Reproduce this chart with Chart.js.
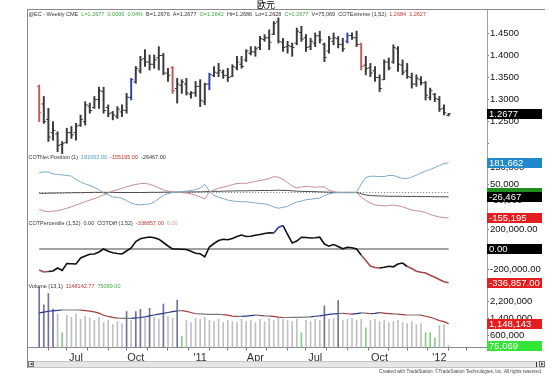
<!DOCTYPE html>
<html>
<head>
<meta charset="utf-8">
<script src="https://cdn.jsdelivr.net/npm/chart.js@4/dist/chart.umd.min.js"></script>
<style>
  html, body { margin: 0; padding: 0; background: #fff; }
  #wrap { width: 560px; height: 387px; }
</style>
</head>
<body>
<div id="wrap"><canvas id="c" width="560" height="387"></canvas></div>
<script>
// weekly euro futures bars, one per week
const priceHigh = [1.333,1.307,1.280,1.250,1.227,1.205,1.235,1.239,1.246,1.265,
  1.295,1.292,1.307,1.328,1.328,1.288,1.273,1.284,1.288,1.314,
  1.348,1.375,1.398,1.413,1.401,1.401,1.420,1.405,1.371,1.375,
  1.348,1.345,1.348,1.318,1.341,1.345,1.337,1.360,1.375,1.382,
  1.367,1.371,1.379,1.398,1.398,1.413,1.420,1.420,1.443,1.447,
  1.458,1.477,1.485,1.439,1.432,1.428,1.462,1.466,1.447,1.439,
  1.451,1.455,1.428,1.443,1.451,1.443,1.439,1.451,1.451,1.455,
  1.428,1.398,1.382,1.375,1.356,1.390,1.394,1.424,1.420,1.390,
  1.382,1.360,1.356,1.352,1.341,1.326,1.314,1.307,1.288,1.2686];
const priceLow = [1.250,1.246,1.205,1.208,1.182,1.174,1.201,1.212,1.208,1.239,
  1.242,1.269,1.280,1.280,1.269,1.261,1.254,1.257,1.261,1.269,
  1.299,1.337,1.360,1.375,1.367,1.371,1.367,1.356,1.341,1.314,
  1.292,1.314,1.310,1.303,1.307,1.284,1.288,1.322,1.352,1.352,
  1.348,1.341,1.352,1.367,1.371,1.386,1.401,1.398,1.413,1.432,
  1.413,1.447,1.428,1.409,1.405,1.398,1.424,1.432,1.409,1.413,
  1.420,1.428,1.386,1.405,1.424,1.417,1.409,1.428,1.436,1.420,
  1.367,1.356,1.352,1.341,1.318,1.345,1.367,1.382,1.364,1.356,
  1.348,1.326,1.330,1.333,1.299,1.299,1.295,1.273,1.265,1.2628];
const priceOpen = [1.330,1.290,1.255,1.225,1.222,1.198,1.203,1.225,1.225,1.242,
  1.250,1.285,1.282,1.300,1.318,1.282,1.270,1.262,1.272,1.275,
  1.305,1.340,1.365,1.393,1.385,1.380,1.395,1.400,1.360,1.372,
  1.325,1.332,1.335,1.312,1.315,1.330,1.295,1.335,1.355,1.360,
  1.362,1.355,1.352,1.372,1.380,1.390,1.405,1.408,1.418,1.436,
  1.440,1.448,1.476,1.430,1.420,1.420,1.428,1.452,1.440,1.420,
  1.428,1.445,1.425,1.410,1.432,1.438,1.425,1.432,1.445,1.440,
  1.425,1.378,1.372,1.365,1.350,1.345,1.385,1.385,1.415,1.378,
  1.365,1.350,1.335,1.345,1.338,1.305,1.312,1.300,1.280,1.2642];
const priceClose = [1.270,1.250,1.215,1.230,1.196,1.200,1.225,1.220,1.240,1.255,
  1.288,1.275,1.300,1.320,1.275,1.268,1.265,1.278,1.276,1.305,
  1.345,1.370,1.390,1.385,1.380,1.390,1.400,1.360,1.355,1.320,
  1.335,1.340,1.315,1.315,1.330,1.298,1.335,1.357,1.362,1.366,
  1.354,1.350,1.375,1.385,1.375,1.410,1.408,1.415,1.438,1.440,
  1.430,1.472,1.432,1.418,1.422,1.418,1.455,1.437,1.418,1.432,
  1.444,1.435,1.395,1.438,1.440,1.425,1.415,1.445,1.440,1.425,
  1.375,1.370,1.360,1.350,1.325,1.385,1.372,1.418,1.380,1.362,
  1.352,1.335,1.348,1.338,1.310,1.320,1.302,1.278,1.270,1.2677];

// weeks where COTExtreme painted the bar
const cotSellWeeks = [0, 29, 70];
const cotBuyWeeks = [20, 37, 67];

// COT net positions, thousands of contracts
const netCommercial = [120.6,125,125,113,110,107,104,100,79,64,
  52,43,30,18,-3,-15,-27,-30,-35,-49,
  -64,-73,-75,-72,-70,-58,-37,-18,-6,0,
  2,4,9,12,18,27,49,9,-18,-29,
  -37,-46,-51,-55,-56,-56,-60,-64,-67,-70,
  -76,-88,-96,-90,-85,-70,-58,-52,-44,-41,
  -37,-34,-18,-9,-2,-1,-1,-1,-1,0,
  52,91,99,99,97,97,104,104,94,86,
  86,94,105,119,131,140,152,164,176,181.662];
const netNonCommercial = [-102,-113,-116,-113,-111,-104,-96,-87,-76,-67,
  -56,-46,-38,-26,-14,-3,9,16,26,35,
  43,49,54,56,50,40,29,16,9,4,
  2,-1,-3,-9,-16,-27,-40,3,15,26,
  32,40,47,55,56,56,62,68,73,78,
  85,97,93,79,59,40,27,34,38,35,
  32,34,34,15,6,0,-1,-1,-1,-1,
  -27,-49,-64,-76,-79,-82,-79,-76,-81,-87,
  -97,-107,-111,-116,-122,-134,-142,-149,-153,-155.195];
const netSmall = [-5,-5,-4,-4,-3,-3,-2,-2,-1,-1,
  0,0,1,1,1,1,1,0,0,0,
  0,0,0,0,1,1,1,2,2,2,
  2,3,3,3,4,4,5,6,7,7,
  8,9,9,10,10,10,11,11,12,12,
  12,13,14,13,12,10,8,7,6,6,
  5,4,3,2,1,1,1,1,1,1,
  -8,-15,-19,-20,-21,-22,-23,-23,-23,-23,
  -24,-24,-24,-25,-25,-25,-26,-26,-26,-26.467];

// COTDiff (1,52), thousands
const cotDiff = [-210,-230,-225,-220,-190,-215,-145,-148,-150,-90,
  -70,-52,-50,-30,0,-22,-38,-45,-50,-20,
  10,75,102,112,120,112,98,65,30,0,
  0,-2,-5,-22,-42,-48,-78,20,55,85,
  98,92,105,125,140,125,128,138,145,155,
  162,160,215,235,145,60,80,118,115,110,
  112,118,50,28,45,25,2,18,12,0,
  -60,-115,-170,-185,-190,-182,-172,-178,-150,-140,
  -175,-195,-222,-232,-240,-262,-282,-305,-328,-336.857];
// weeks where COTPercentile sat at 0 / 100
const pctLowWeeks = [1,2,71,72,73,74,81,82,83,84,85,86,87,88,89];
const pctHighWeeks = [52,53];

// volume and its 13 week average, millions
const volume = [2.90,2.05,2.60,1.85,1.60,0.70,1.55,1.45,1.60,1.35,
  1.50,1.40,1.30,1.45,1.20,1.30,1.10,1.25,1.15,1.72,
  1.30,1.72,1.83,1.40,1.88,1.45,1.35,2.09,1.50,1.40,
  2.28,0.55,1.30,1.20,1.40,1.35,1.45,1.30,1.25,1.35,
  1.20,1.30,1.25,1.20,1.35,1.25,1.30,1.20,1.35,1.25,
  1.40,1.30,1.45,1.35,1.30,1.25,1.35,0.70,1.30,1.25,
  1.35,1.30,2.00,1.35,1.40,2.25,1.30,1.35,1.40,1.30,
  1.35,0.94,1.30,1.35,1.25,1.30,1.20,1.25,1.30,1.20,
  1.15,1.25,1.10,1.15,0.70,0.72,0.46,1.05,1.10,0.075069];
const volAvg = [1.66,1.70,1.74,1.76,1.78,1.80,1.80,1.80,1.80,1.79,
  1.77,1.75,1.71,1.65,1.55,1.49,1.45,1.41,1.40,1.40,
  1.40,1.42,1.44,1.47,1.52,1.56,1.60,1.64,1.68,1.72,
  1.76,1.77,1.73,1.68,1.62,1.61,1.60,1.59,1.59,1.59,
  1.58,1.55,1.51,1.49,1.49,1.51,1.53,1.55,1.54,1.52,
  1.51,1.49,1.46,1.44,1.44,1.45,1.45,1.45,1.46,1.47,
  1.50,1.52,1.55,1.59,1.61,1.63,1.64,1.62,1.60,1.63,
  1.66,1.65,1.62,1.64,1.67,1.65,1.63,1.61,1.60,1.58,
  1.56,1.56,1.56,1.55,1.50,1.45,1.38,1.29,1.24,1.148143];

// x axis: first week of each month, and the quarter labels
const monthWeeks = [4,8,13,17,21,26,30,35,39,43,47,52,56,60,65,69,74,78,82,87,91];
const xTickWeeks = [8, 21, 35, 47, 60, 74, 87];
const xTickLabels = ['Jul', 'Oct', "'11", 'Apr', 'Jul', 'Oct', "'12"];

const priceTicks = [1.45, 1.40, 1.35, 1.30, 1.25, 1.20];
const netTicks = [150000, 50000, -50000, -150000];
const diffTicks = [200000, 0, -200000];
const volTicks = [2200000, 1400000, 600000];

const FONT = '"Liberation Sans", Arial, sans-serif';
const last = priceHigh.length - 1;
const pts = (arr, k) => arr.map((v, i) => ({ x: i, y: v * k }));
const flat = (v) => [{ x: 0, y: v }, { x: last, y: v }];
const fmt = (v, d) => v.toLocaleString('en-US', { minimumFractionDigits: d, maximumFractionDigits: d });

const barColor = i => cotSellWeeks.includes(i) ? '#c45a5a' : cotBuyWeeks.includes(i) ? '#3440a8' : '#3a3a3a';
const volColor = i => volume[i] >= 1.65 ? '#72729a' : volume[i] < 1.0 ? '#86cc86' : '#c0c0c0';

const rightAxis = (extra) => Object.assign({
  position: 'right',
  stack: 'panes',
  grid: { drawOnChartArea: false, drawTicks: true, tickLength: 2, color: '#777' },
  border: { display: true, color: '#a0a0a0' },
  ticks: { autoSkip: false, padding: 1, color: '#111', font: { size: 9.5, family: FONT } },
  afterFit: s => { s.width = 59; }
}, extra);

const overlay = {
  id: 'overlay',
  afterDraw(chart) {
    const ctx = chart.ctx;
    const s = chart.scales;
    ctx.save();

    // frame
    ctx.strokeStyle = '#8a8a8a';
    ctx.lineWidth = 1;
    ctx.beginPath();
    ctx.moveTo(27, 9.5); ctx.lineTo(545, 9.5);
    ctx.moveTo(27.5, 9.5); ctx.lineTo(27.5, 368);
    ctx.stroke();

    // title
    ctx.fillStyle = '#000';
    ctx.font = '9px "Noto Sans CJK SC", sans-serif';
    ctx.textAlign = 'center';
    ctx.textBaseline = 'middle';
    ctx.fillText('欧元', 266, 4.5);

    const row = (y, parts) => {
      ctx.font = '5.5px ' + FONT;
      ctx.textAlign = 'left';
      ctx.textBaseline = 'middle';
      const gap = ctx.measureText('  ').width;
      let x = 28.5;
      parts.forEach(([t, c]) => {
        ctx.fillStyle = c;
        ctx.fillText(t, x, y);
        x += ctx.measureText(t).width + gap;
      });
    };
    const dk = '#333', gr = '#3caa3c', rd = '#c83434', bl = '#4a9ccc';
    row(14.5, [['@EC - Weekly CME', dk], ['L=1.2677', gr], ['0.0006', gr], ['0.04%', gr],
      ['B=1.2676', dk], ['A=1.2677', dk], ['O=1.2642', gr], ['Hi=1.2686', dk], ['Lo=1.2628', dk],
      ['C=1.2677', gr], ['V=75,069', dk], ['COTExtreme (1,52)', dk], ['1.2684', rd], ['1.2627', rd]]);
    row(157.5, [['COTNet Position (1)', dk], ['181662.00', bl], ['-155195.00', rd], ['-26467.00', dk]]);
    row(223, [['COTPercentile (1,52)', dk], ['0.00', dk], ['COTDiff (1,52)', dk], ['-336857.00', rd], ['0.00', '#d09a9a']]);
    row(286, [['Volume (13,1)', dk], ['1148142.77', rd], ['75069.00', gr]]);

    // last value boxes on the right axis
    const box = (id, v, text, bg) => {
      const y = s[id].getPixelForValue(v);
      ctx.fillStyle = bg;
      ctx.fillRect(487, Math.round(y) - 5, 55, 10);
      ctx.fillStyle = '#fff';
      ctx.font = '9.5px ' + FONT;
      ctx.textAlign = 'left';
      ctx.textBaseline = 'middle';
      ctx.fillText(text, 489, Math.round(y) + 0.5, 52);
    };
    const pc = priceClose[last];
    box('yP', pc, pc.toFixed(4), '#000');
    box('yN', netCommercial[last] * 1000, fmt(netCommercial[last] * 1000, 0), '#2288cc');
    box('yN', 0, '', '#1f8f1f');
    box('yN', netSmall[last] * 1000, fmt(netSmall[last] * 1000, 0), '#000');
    box('yN', netNonCommercial[last] * 1000, fmt(netNonCommercial[last] * 1000, 0), '#e41e1e');
    box('yD', 0, fmt(0, 2), '#000');
    box('yD', cotDiff[last] * 1000, fmt(cotDiff[last] * 1000, 2), '#e41e1e');
    box('yV', volAvg[last] * 1e6, fmt(volAvg[last] * 1e6, 0), '#e41e1e');
    box('yV', volume[last] * 1e6, fmt(volume[last] * 1e6, 0), '#35e535');

    // scroll bar
    ctx.fillStyle = '#e6e6e6';
    ctx.fillRect(28, 361, 517, 6);
    ctx.strokeStyle = '#c4c4c4';
    ctx.strokeRect(28.5, 361.5, 516, 6);
    ctx.strokeStyle = '#777';
    ctx.strokeRect(28.5, 361.5, 5, 5);
    ctx.strokeRect(539.5, 361.5, 5, 5);
    ctx.fillStyle = '#333';
    ctx.beginPath(); ctx.moveTo(30, 364); ctx.lineTo(32.5, 362.5); ctx.lineTo(32.5, 365.5); ctx.fill();
    ctx.beginPath(); ctx.moveTo(543.5, 364); ctx.lineTo(541, 362.5); ctx.lineTo(541, 365.5); ctx.fill();
    ctx.fillRect(536, 362, 1, 5);

    // footer
    ctx.fillStyle = '#444';
    ctx.font = '4.6px ' + FONT;
    ctx.textAlign = 'right';
    ctx.fillText('Created with TradeStation. \u00A9TradeStation Technologies, Inc. All rights reserved.', 542, 372);
    ctx.restore();
  }
};

new Chart(document.getElementById('c'), {
  type: 'line',
  data: {
    datasets: [
      {
        label: 'COTDiff', yAxisID: 'yD', data: pts(cotDiff, 1000),
        borderColor: '#111', borderWidth: 1.6, pointRadius: 0,
        segment: {
          borderColor: c => pctLowWeeks.includes(c.p1DataIndex) ? '#a8484c'
            : pctHighWeeks.includes(c.p1DataIndex) ? '#3040a8' : '#111'
        }
      },
      { label: 'zero', yAxisID: 'yD', data: flat(0), borderColor: '#444', borderWidth: 1.2, pointRadius: 0 },
      { label: 'Commercial', yAxisID: 'yN', data: pts(netCommercial, 1000), borderColor: '#7eaac4', borderWidth: 1, pointRadius: 0 },
      { label: 'NonCommercial', yAxisID: 'yN', data: pts(netNonCommercial, 1000), borderColor: '#c48e92', borderWidth: 1, pointRadius: 0 },
      { label: 'Small', yAxisID: 'yN', data: pts(netSmall, 1000), borderColor: '#4a4a4a', borderWidth: 1, pointRadius: 0 },
      { label: 'zero net', yAxisID: 'yN', data: flat(0), borderColor: '#777', borderWidth: 1, borderDash: [1, 2], pointRadius: 0 },
      {
        label: 'Open', yAxisID: 'yP', showLine: false,
        data: priceOpen.map((v, i) => ({ x: i - 0.25, y: v })),
        pointStyle: 'line', pointRadius: 1.2, pointBorderWidth: 1,
        pointBorderColor: c => barColor(c.dataIndex)
      },
      {
        label: 'Close', yAxisID: 'yP', showLine: false,
        data: priceClose.map((v, i) => ({ x: i + 0.25, y: v })),
        pointStyle: 'line', pointRadius: 1.2, pointBorderWidth: 1,
        pointBorderColor: c => barColor(c.dataIndex)
      },
      {
        type: 'bar', label: 'Range', yAxisID: 'yP', grouped: false,
        data: priceHigh.map((h, i) => ({ x: i, y: [priceLow[i], h] })),
        barThickness: 1.3, borderWidth: 0,
        backgroundColor: c => barColor(c.dataIndex)
      },
      {
        label: 'Volume Avg', yAxisID: 'yV', data: pts(volAvg, 1e6),
        borderColor: '#7a7a7a', borderWidth: 1.2, pointRadius: 0,
        segment: {
          borderColor: c => {
            const d = volAvg[c.p1DataIndex] - volAvg[c.p0DataIndex];
            return d > 0.018 ? '#2c3a8e' : d < -0.018 ? '#a83c3c' : '#7a7a7a';
          }
        }
      },
      {
        type: 'bar', label: 'Volume', yAxisID: 'yV', grouped: false,
        data: pts(volume, 1e6), barThickness: 1, borderWidth: 0,
        backgroundColor: c => volColor(c.dataIndex)
      }
    ]
  },
  options: {
    responsive: false,
    animation: false,
    events: [],
    layout: { padding: { left: 27, right: 14, top: 10, bottom: 0 } },
    plugins: { legend: { display: false }, tooltip: { enabled: false } },
    scales: {
      x: {
        type: 'linear', position: 'bottom', min: -0.27, max: 94.97,
        afterBuildTicks: sc => { sc.ticks = monthWeeks.map(v => ({ value: v })); },
        afterFit: sc => { sc.height = 39.5; },
        grid: { drawOnChartArea: false, drawTicks: true, tickLength: 3, color: '#777' },
        border: { display: true, color: '#8a8a8a' },
        ticks: {
          autoSkip: false, maxRotation: 0, padding: 1, color: '#333',
          font: { size: 11, family: FONT },
          callback: v => { const k = xTickWeeks.indexOf(v); return k >= 0 ? xTickLabels[k] : ''; }
        }
      },
      yP: rightAxis({
        min: 1.1766, max: 1.50295, stackWeight: 144,
        afterBuildTicks: sc => { sc.ticks = priceTicks.map(v => ({ value: v })); },
        ticks: { autoSkip: false, padding: 1, color: '#111', font: { size: 9.5, family: FONT },
          callback: v => v < 1.22 ? '' : v.toFixed(4) }
      }),
      yN: rightAxis({
        min: -167500, max: 234500, stackWeight: 66,
        afterBuildTicks: sc => { sc.ticks = netTicks.map(v => ({ value: v })); },
        ticks: { autoSkip: false, padding: 1, color: '#111', font: { size: 9.5, family: FONT },
          callback: v => fmt(v, 0) }
      }),
      yD: rightAxis({
        min: -350000, max: 290000, stackWeight: 64,
        afterBuildTicks: sc => { sc.ticks = diffTicks.map(v => ({ value: v })); },
        ticks: { autoSkip: false, padding: 1, color: '#111', font: { size: 9.5, family: FONT },
          callback: v => fmt(v, 2) }
      }),
      yV: rightAxis({
        min: 0, max: 3048000, stackWeight: 63.5,
        afterBuildTicks: sc => { sc.ticks = volTicks.map(v => ({ value: v })); },
        ticks: { autoSkip: false, padding: 1, color: '#111', font: { size: 9.5, family: FONT },
          callback: v => fmt(v, 0) }
      })
    }
  },
  plugins: [overlay]
});
</script>
</body>
</html>
